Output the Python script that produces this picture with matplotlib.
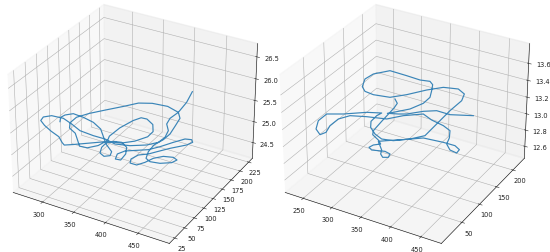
"""Two 3D trajectories side by side."""
import matplotlib
matplotlib.use("Agg")
import matplotlib.pyplot as plt

left_x = [265.9,260.2,262.0,269.5,287.2,306.7,324.4,337.9,351.7,368.7,372.1,365.9,356.8,351.1,350.3,356.7,368.0,380.6,388.2,
          390.2,382.7,378.4,383.4,396.3,409.1,419.0,429.2,438.8,447.5,452.1,448.3,432.9,423.0,414.7,404.3,400.9,404.9,415.1,421.4,
          426.0,435.2,448.1,455.6,452.7,440.0,426.3,417.5,411.7,409.7,413.9,414.4,410.3,405.7,395.6,374.3,350.8,333.4,319.4,303.1,
          288.0,278.1,278.4,285.5,300.0,313.1,323.3,334.8,344.5,348.6,344.9,345.9,351.7,357.6,366.5,381.1,391.0,391.4,381.9,369.1,
          351.1,333.1,316.4,308.2,304.1,294.3,281.2,268.6,260.8,260.6,263.9,278.0,292.4,308.9,330.0,346.6,364.1,383.4,402.2,413.1,
          415.0,411.4,402.8,401.5,406.3,406.8,402.6]
left_y = [104.2,114.0,121.9,131.1,129.5,125.0,116.2,102.2,87.8,75.5,66.4,61.3,65.6,78.2,89.9,98.0,101.1,93.8,79.4,64.1,62.9,
          74.3,85.2,93.8,102.4,115.9,133.4,147.9,150.6,145.5,136.1,118.6,105.1,93.4,85.2,72.5,63.8,63.9,74.3,87.6,97.8,101.9,98.7,
          90.0,81.5,78.7,83.1,98.2,115.7,132.9,149.3,169.3,190.4,202.9,209.7,206.7,198.3,180.5,161.3,142.9,126.1,110.2,98.5,
          91.1,77.6,66.9,68.3,79.7,96.5,106.4,130.6,155.1,166.7,167.5,159.1,143.8,129.2,111.8,98.5,93.4,78.4,63.0,53.5,54.6,61.1,
          62.3,65.0,67.5,73.8,88.2,95.4,94.0,89.6,90.2,93.2,90.8,97.5,109.3,121.3,135.2,149.9,159.7,170.6,184.6,205.9,228.6]
left_z = [25.08,25.08,25.08,25.07,25.07,25.07,25.06,25.06,25.06,25.06,25.06,25.06,25.06,25.06,25.06,25.06,25.06,25.06,25.06,
          25.06,25.06,25.06,25.06,25.06,25.06,25.06,25.06,25.06,25.06,25.06,25.06,25.06,25.06,25.06,25.06,25.06,25.06,25.06,25.06,
          25.06,25.06,25.06,25.06,25.06,25.06,25.06,25.06,25.06,25.06,25.06,25.06,25.06,25.06,25.06,25.06,25.06,25.06,25.06,25.06,
          25.06,25.06,25.06,25.06,25.06,25.06,25.06,25.06,25.06,25.06,25.06,25.06,25.06,25.06,25.06,25.06,25.06,25.06,25.06,25.07,
          25.07,25.08,25.1,25.13,25.16,25.2,25.26,25.32,25.38,25.41,25.34,25.28,25.22,25.17,25.14,25.11,25.09,25.08,25.08,25.09,
          25.1,25.12,25.16,25.2,25.25,25.32,25.38]

right_x = [278.2,288.3,291.3,292.8,295.8,299.3,304.5,319.8,328.7,320.8,318.7,326.1,335.5,344.9,355.1,357.7,350.6,343.3,338.8,
           330.3,321.8,331.5,355.3,374.8,406.6,426.1,437.1,438.1,425.6,413.2,408.3,398.9,383.0,359.5,339.5,316.8,300.0,270.0,247.8,
           239.2,240.4,247.2,245.9,234.5,226.8,226.8,245.8,271.1,289.3,285.6,285.7,293.2,309.0,325.1,342.5,362.7,379.5,380.2,380.6,
           384.9,382.1,370.2,345.2,324.5,303.9,284.6,259.5,242.8,234.2,227.6,231.8,248.8,279.8,304.8,320.4,325.5,331.0,335.3,331.9,
           320.4,302.3,293.4,308.9,318.7,336.7,352.2,375.8,408.1]
right_y = [195.3,186.1,172.3,158.9,131.5,103.9,94.3,85.9,78.5,71.3,63.2,59.0,62.0,65.0,62.5,54.0,50.3,56.2,65.7,74.3,82.9,90.1,
           106.7,121.1,124.6,124.8,118.6,109.2,111.5,123.0,138.7,156.4,163.8,169.3,178.1,158.1,138.6,130.2,119.1,101.2,78.2,58.4,
           45.4,51.7,68.4,89.6,104.9,128.9,141.6,133.7,118.3,106.0,93.6,86.7,90.8,104.0,117.9,149.3,186.7,213.5,226.0,228.2,226.1,
           211.7,188.0,171.7,164.5,166.9,172.6,189.8,206.5,227.1,226.0,224.3,227.9,227.5,215.6,203.8,190.3,171.0,153.3,150.7,156.7,
           164.5,182.7,195.6,195.1,208.9]
right_z = [12.93,12.93,12.93,12.93,12.93,12.93,12.93,12.93,12.93,12.93,12.93,12.93,12.93,12.93,12.93,12.93,12.93,12.93,12.93,
           12.93,12.93,12.93,12.93,12.93,12.93,12.93,12.93,12.93,12.93,12.93,12.93,12.93,12.93,12.93,12.93,12.94,12.94,12.94,12.95,
           12.96,12.97,12.98,13.0,13.02,13.04,13.04,13.02,13.0,12.98,12.97,12.96,12.95,12.95,12.95,12.95,12.96,12.98,13.0,13.02,
           13.05,13.08,13.11,13.09,13.07,13.06,13.05,13.06,13.06,13.08,13.1,13.11,13.11,13.11,13.11,13.11,13.08,13.06,13.03,13.0,
           12.98,12.97,12.95,12.95,12.94,12.94,12.93,12.93,12.93]

left_xticks = [300, 350, 400, 450]
left_yticks = [25, 50, 75, 100, 125, 150, 175, 200, 225]
left_zticks = [24.5, 25.0, 25.5, 26.0, 26.5]
right_xticks = [250, 300, 350, 400, 450]
right_yticks = [50, 100, 150, 200]
right_zticks = [12.6, 12.8, 13.0, 13.2, 13.4, 13.6]

plt.rcParams["axes.linewidth"] = 0.4
plt.rcParams["grid.linewidth"] = 0.4
plt.rcParams["xtick.major.width"] = 0.4
plt.rcParams["ytick.major.width"] = 0.4
plt.rcParams["lines.linewidth"] = 0.85


def draw_panel(fig, left, x, y, z, xlim, ylim, zlim, xticks, yticks, zticks):
    ax = fig.add_axes([left / 550, -9 / 253, 278 / 550, 278 / 253], projection="3d")
    ax.patch.set_alpha(0)  # the panels overlap, keep the neighbour's labels visible
    ax.plot(x, y, z, color="#3a85b8")
    ax.set_xlim(*xlim)
    ax.set_ylim(*ylim)
    ax.set_zlim(*zlim)
    ax.set_xticks(xticks)
    ax.set_yticks(yticks)
    ax.set_zticks(zticks)
    ax.tick_params(labelsize=4.8, pad=-3.5, colors="#222222")
    ax.tick_params(axis="z", pad=-1.5)
    return ax


fig = plt.figure(figsize=(5.5, 2.53), dpi=100)
draw_panel(fig, -7.8, left_x, left_y, left_z, (252, 497), (12, 236), (24.12, 26.8),
           left_xticks, left_yticks, left_zticks)
draw_panel(fig, 264.2, right_x, right_y, right_z, (218, 483), (-6, 236), (12.45, 13.83),
           right_xticks, right_yticks, right_zticks)
fig.savefig("out.png", dpi=100)
